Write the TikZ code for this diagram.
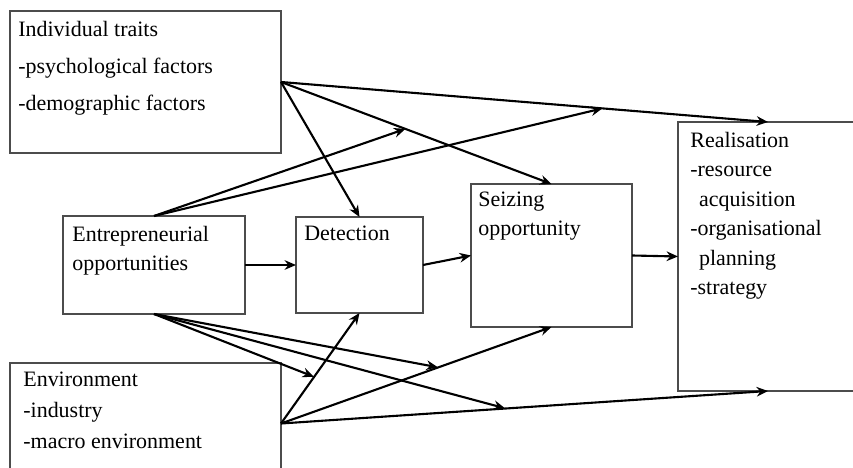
\documentclass[tikz,border=0pt]{standalone}
\usepackage{fontspec}
\setmainfont{Liberation Serif}
\usetikzlibrary{arrows.meta,positioning}

\begin{document}
\begin{tikzpicture}[font=\fontsize{12.5}{16.8}\selectfont, >=Stealth, x=1cm, y=1cm]
\tikzset{box/.style={draw=black!70, line width=.9pt, inner sep=0pt, outer sep=0pt}, lbl/.style={align=left, inner sep=0pt, anchor=north west}, flow/.style={-{Stealth[length=6.5pt,width=5.5pt]}, line width=1.2pt}}
\useasboundingbox (0,0) rectangle (17.06,9.36);
% boxes
\node[box, minimum width=5.42cm, minimum height=2.84cm] (trait) at (2.91,7.72) {};
\node[box, minimum width=3.64cm, minimum height=1.96cm] (opp) at (3.08,4.06) {};
\node[box, minimum width=2.54cm, minimum height=1.92cm] (det) at (7.19,4.06) {};
\node[box, minimum width=3.22cm, minimum height=2.86cm] (seize) at (11.03,4.25) {};
\node[box, minimum width=3.6cm, minimum height=5.38cm] (real) at (15.36,4.23) {};
\node[box, minimum width=5.42cm, minimum height=2.4cm] (env) at (2.91,.9) {};
% texts
\node[lbl, font=\fontsize{12.5}{21}\selectfont] (traittxt) at ([xshift=.16cm, yshift=-.2cm]trait.north west) {Individual traits\\-psychological factors\\-demographic factors};
\node[lbl] (opptxt) at ([xshift=.18cm, yshift=-.19cm]opp.north west) {Entrepreneurial\\opportunities};
\node[lbl] (dettxt) at ([xshift=.16cm, yshift=-.17cm]det.north west) {Detection};
\node[lbl] (seizetxt) at ([xshift=.14cm, yshift=-.15cm]seize.north west) {Seizing\\opportunity};
\node[lbl] (realtxt) at ([xshift=.24cm, yshift=-.19cm]real.north west) {Realisation\\-resource\\\hspace*{.4em}acquisition\\-organisational\\\hspace*{.4em}planning\\-strategy};
\node[lbl, font=\fontsize{12.5}{17.6}\selectfont] (envtxt) at ([xshift=.26cm, yshift=-.17cm]env.north west) {Environment\\-industry\\-macro environment};
% main chain
\draw[flow] (opp.east) -- (det.west);
\draw[flow] (det.east) -- (seize.west);
\draw[flow] (seize.east) -- (real.west);
% traits and environment
\foreach \tgt in {det.north, seize.north, real.north} {
  \draw[flow] (trait.east) -- (\tgt);
}
\foreach \tgt in {det.south, seize.south, real.south} {
  \draw[flow] ([yshift=-.01cm]env.east) -- (\tgt);
}
% points on the lines
\path (trait.east) -- (seize.north) coordinate[pos=.46] (tseize);
\path (trait.east) -- (real.north) coordinate[pos=.66] (treal);
\path (env.east) -- (det.south) coordinate[pos=.42] (edet);
\path (env.east) -- (seize.south) coordinate[pos=.58] (eseize);
\path (env.east) -- (real.south) coordinate[pos=.46] (ereal);
\foreach \tgt in {tseize, treal} {
  \draw[flow] (opp.north) -- (\tgt);
}
\foreach \tgt in {edet, eseize, ereal} {
  \draw[flow] (opp.south) -- (\tgt);
}
\end{tikzpicture}
\end{document}
